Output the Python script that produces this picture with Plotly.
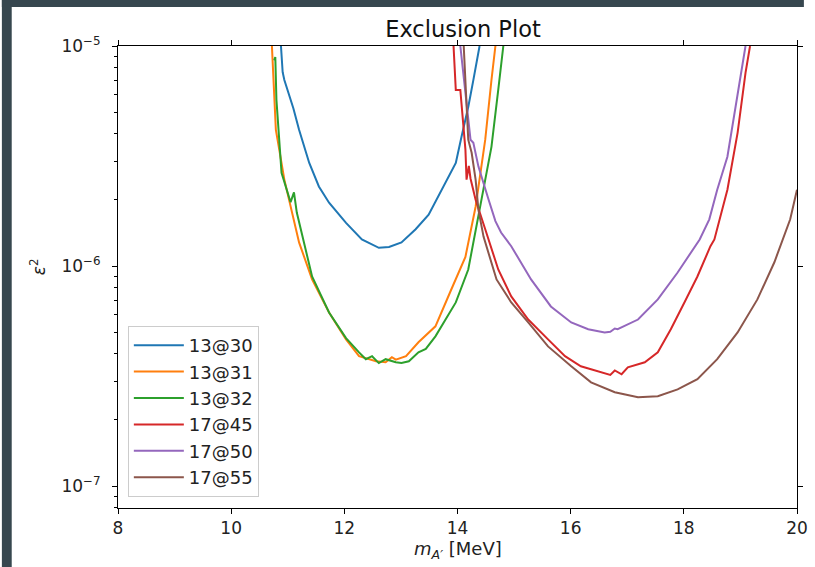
import plotly.graph_objects as go

# ---- data ----
x_13_30 = [10.88, 10.91, 10.94, 11.00, 11.10, 11.20, 11.38, 11.55, 11.73, 12.03, 12.31, 12.61, 12.79,
           13.01, 13.26, 13.49, 13.72, 13.97, 14.07, 14.19, 14.28, 14.39]
y_13_30 = [1.0e-5, 7.6e-6, 7.0e-6, 6.3e-6, 5.2e-6, 4.16e-6, 2.94e-6, 2.30e-6, 1.94e-6, 1.57e-6, 1.32e-6,
           1.21e-6, 1.22e-6, 1.28e-6, 1.47e-6, 1.71e-6, 2.22e-6, 2.94e-6, 3.86e-6, 5.28e-6, 7.0e-6, 1.0e-5]

x_13_31 = [10.72, 10.79, 10.85, 10.94, 11.20, 11.43, 11.73, 12.03, 12.26, 12.56, 12.73, 12.84, 12.91,
           13.09, 13.31, 13.61, 13.89, 14.14, 14.32, 14.49, 14.60, 14.67]
y_13_31 = [1.0e-5, 4.16e-6, 3.38e-6, 2.47e-6, 1.28e-6, 8.69e-7, 6.15e-7, 4.64e-7, 3.89e-7, 3.69e-7,
           3.65e-7, 3.85e-7, 3.75e-7, 3.89e-7, 4.50e-7, 5.32e-7, 7.82e-7, 1.10e-6, 1.86e-6, 3.75e-6,
           7.0e-6, 1.0e-5]

x_13_32 = [10.76, 10.78, 10.80, 10.89, 11.05, 11.11, 11.16, 11.33, 11.43, 11.73, 12.03, 12.26, 12.38,
           12.49, 12.61, 12.73, 12.91, 13.01, 13.14, 13.31, 13.44, 13.61, 13.97, 14.19, 14.42, 14.60,
           14.72, 14.81]
y_13_32 = [8.6e-6, 8.9e-6, 5.69e-6, 2.65e-6, 1.95e-6, 2.16e-6, 1.75e-6, 1.15e-6, 8.96e-7, 6.15e-7,
           4.70e-7, 4.05e-7, 3.77e-7, 3.89e-7, 3.62e-7, 3.77e-7, 3.65e-7, 3.62e-7, 3.69e-7, 4.05e-7,
           4.20e-7, 4.79e-7, 6.83e-7, 9.64e-7, 1.94e-6, 3.48e-6, 6.31e-6, 1.0e-5]

x_17_45 = [13.93, 13.97, 14.05, 14.14, 14.16, 14.20, 14.23, 14.32, 14.49, 14.72, 14.95, 15.25, 15.60,
           15.90, 16.18, 16.48, 16.70, 16.78, 16.90, 17.01, 17.31, 17.54, 17.77, 18.01, 18.24, 18.47,
           18.54, 18.77, 18.95, 19.09, 19.17]
y_17_45 = [1.0e-5, 6.31e-6, 6.31e-6, 3.38e-6, 2.47e-6, 2.85e-6, 2.50e-6, 2.0e-6, 1.47e-6, 9.64e-7,
           7.27e-7, 5.71e-7, 4.64e-7, 3.89e-7, 3.50e-7, 3.32e-7, 3.20e-7, 3.35e-7, 3.22e-7, 3.46e-7,
           3.65e-7, 4.05e-7, 5.16e-7, 6.83e-7, 8.96e-7, 1.23e-6, 1.32e-6, 2.22e-6, 4.03e-6, 7.55e-6, 1.0e-5]

x_17_50 = [14.05, 14.14, 14.23, 14.28, 14.37, 14.55, 14.67, 14.77, 14.95, 15.30, 15.65, 16.01, 16.31,
           16.60, 16.70, 16.78, 16.83, 17.19, 17.54, 17.89, 18.28, 18.45, 18.59, 18.77, 18.91, 19.03, 19.09]
y_17_50 = [1.0e-5, 6.31e-6, 3.75e-6, 3.63e-6, 2.83e-6, 2.0e-6, 1.60e-6, 1.42e-6, 1.23e-6, 8.69e-7,
           6.55e-7, 5.54e-7, 5.16e-7, 4.99e-7, 5.02e-7, 5.20e-7, 5.16e-7, 5.71e-7, 7.05e-7, 9.34e-7,
           1.32e-6, 1.63e-6, 2.22e-6, 3.14e-6, 5.28e-6, 8.04e-6, 1.0e-5]

x_17_55 = [14.11, 14.19, 14.25, 14.32, 14.37, 14.46, 14.69, 14.95, 15.25, 15.60, 16.01, 16.36, 16.78,
           17.19, 17.54, 17.89, 18.24, 18.59, 18.95, 19.30, 19.60, 19.88, 20.0]
y_17_55 = [1.0e-5, 3.75e-6, 3.27e-6, 2.47e-6, 1.80e-6, 1.36e-6, 8.69e-7, 6.83e-7, 5.54e-7, 4.31e-7,
           3.50e-7, 2.96e-7, 2.67e-7, 2.53e-7, 2.56e-7, 2.75e-7, 3.06e-7, 3.77e-7, 4.99e-7, 7.05e-7,
           1.04e-6, 1.63e-6, 2.22e-6]

series_names = ["13@30", "13@31", "13@32", "17@45", "17@50", "17@55"]
series_x = [x_13_30, x_13_31, x_13_32, x_17_45, x_17_50, x_17_55]
series_y = [y_13_30, y_13_31, y_13_32, y_17_45, y_17_50, y_17_55]
colors = ["#1f77b4", "#ff7f0e", "#2ca02c", "#d62728", "#9467bd", "#8c564b"]

x_ticks = [8, 10, 12, 14, 16, 18, 20]
x_top_ticks = [8, 10, 14, 18, 20]
y_ticks = [1e-7, 1e-6, 1e-5]
y_tick_text = ["10<sup>−7</sup>", "10<sup>−6</sup>", "10<sup>−5</sup>"]
y_minor = [m * 10.0 ** e for e in (-8, -7, -6) for m in range(2, 10)]

FONT = "DejaVu Sans"
TXT = 17
fig = go.Figure()
for name, xs, ys, c in zip(series_names, series_x, series_y, colors):
    fig.add_trace(go.Scatter(x=xs, y=ys, mode="lines", name=name, legendgroup=name,
                             line=dict(color=c, width=2)))

# dummy trace to activate the top/right tick axes
fig.add_trace(go.Scatter(x=[8], y=[1e-7], xaxis="x2", yaxis="y2", mode="markers",
                         marker=dict(opacity=0), showlegend=False, hoverinfo="skip"))

L, R, T, B = 118, 7, 46, 59
W, H = 815, 567
pw, ph = W - L - R, H - T - B

fig.update_layout(
    width=W, height=H, autosize=False,
    margin=dict(l=L, r=R, t=T, b=B),
    paper_bgcolor="white", plot_bgcolor="white",
    font=dict(family=FONT, size=TXT, color="black"),
    title=dict(text="Exclusion Plot", x=(L + pw / 2) / W, xanchor="center",
               y=1 - 29 / H, yanchor="middle", font=dict(family=FONT, size=22.5, color="#111111")),
    xaxis=dict(range=[8, 20], tickvals=x_ticks, ticks="outside", ticklen=5, tickcolor="black",
               showline=True, linecolor="black", linewidth=1, showgrid=False, zeroline=False,
               tickfont=dict(family=FONT, size=TXT, color="#222222")),
    xaxis2=dict(range=[8, 20], overlaying="x", side="top", anchor="y", tickvals=x_top_ticks,
                ticks="outside", ticklen=5, tickcolor="black", showticklabels=False,
                showline=True, linecolor="black", linewidth=1, showgrid=False, zeroline=False),
    yaxis=dict(type="log", range=[-7.1, -5], tickvals=y_ticks, ticktext=y_tick_text,
               ticks="outside", ticklen=5, tickcolor="black", showline=True, linecolor="black",
               linewidth=1, showgrid=False, zeroline=False, ticklabelstandoff=8,
               tickfont=dict(family=FONT, size=TXT, color="#222222"),
               minor=dict(tickvals=y_minor, ticks="outside", ticklen=3, tickcolor="black",
                          showgrid=False)),
    yaxis2=dict(type="log", range=[-7.1, -5], overlaying="y", side="right", anchor="x",
                tickvals=y_ticks, ticks="outside", ticklen=5, tickcolor="black",
                showticklabels=False, showline=True, linecolor="black", linewidth=1,
                showgrid=False, zeroline=False),
    legend=dict(x=10 / pw, y=11 / ph, xanchor="left", yanchor="bottom",
                bgcolor="rgba(255,255,255,0.8)", bordercolor="#cccccc", borderwidth=1,
                font=dict(family=FONT, size=18, color="#222222"), tracegroupgap=0,
                itemwidth=50),
    showlegend=True,
)

# axis titles as annotations
fig.add_annotation(text="<i>m</i><sub><i>A′</i></sub> [MeV]", xref="paper", yref="paper",
                   x=0.5, y=-(550 - (T + ph)) / ph, xanchor="center", yanchor="middle",
                   showarrow=False, font=dict(family=FONT, size=18, color="#222222"))
fig.add_annotation(text="<i>ε</i><sup>2</sup>", xref="paper", yref="paper",
                   x=(37 - L) / pw, y=0.5 + (T + ph / 2 - 267) / ph, xanchor="center",
                   yanchor="middle", textangle=-90, showarrow=False,
                   font=dict(family=FONT, size=TXT, color="#222222"))

# dark border strips (left and top) of the screenshot
dark = "#37474f"
fig.add_shape(type="rect", xref="paper", yref="paper", x0=-L / pw, x1=(10 - L) / pw,
              y0=-B / ph, y1=(H - B) / ph, fillcolor=dark, line=dict(width=0), layer="below")
fig.add_shape(type="rect", xref="paper", yref="paper", x0=-L / pw, x1=(W - L) / pw,
              y0=(ph + T - 7) / ph, y1=(ph + T) / ph, fillcolor=dark, line=dict(width=0),
              layer="below")

fig.write_html("out.html", config={"displayModeBar": False, "responsive": False},
               post_script="document.body.style.margin='0';")
